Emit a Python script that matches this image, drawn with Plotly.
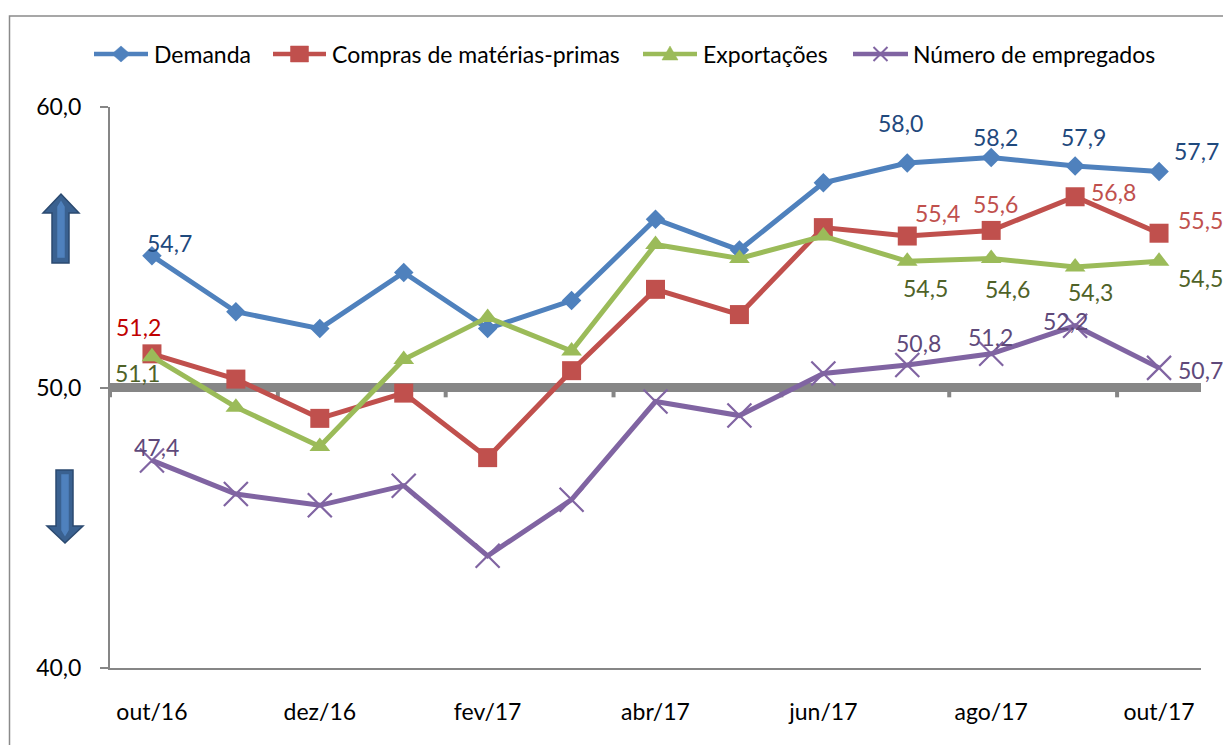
import plotly.graph_objects as go

# ---------------- data ----------------
months = ["out/16", "nov/16", "dez/16", "jan/17", "fev/17", "mar/17", "abr/17",
          "mai/17", "jun/17", "jul/17", "ago/17", "set/17", "out/17"]
demanda = [54.7, 52.7, 52.1, 54.1, 52.1, 53.1, 56.0, 54.9, 57.3, 58.0, 58.2, 57.9, 57.7]
compras = [51.2, 50.3, 48.9, 49.8, 47.5, 50.6, 53.5, 52.6, 55.7, 55.4, 55.6, 56.8, 55.5]
exportacoes = [51.1, 49.3, 47.9, 51.0, 52.5, 51.3, 55.1, 54.6, 55.4, 54.5, 54.6, 54.3, 54.5]
empregados = [47.4, 46.2, 45.8, 46.5, 44.0, 46.0, 49.5, 49.0, 50.5, 50.8, 51.2, 52.2, 50.7]
series_names = ["Demanda", "Compras de matérias-primas", "Exportações", "Número de empregados"]
tick_months = months[::2]
y_ticks = [40, 50, 60]
y_tick_text = ["40,0", "50,0", "60,0"]
labeled_idx = [0, 9, 10, 11, 12]

# ---------------- style ----------------
W, H = 1223, 745
PL, PR, PT, PB = 110, 1201, 107, 668
FONT = "Lato"
FS = 23
GRAY = "#868686"
line_colors = ["#4F81BD", "#C0504D", "#9BBB59", "#8064A2"]
label_colors = ["#1F497D", "#C0504D", "#4F6228", "#5F497A"]
first_label_colors = ["#1F497D", "#C00000", "#4F6228", "#5F497A"]

# label offsets (px right, px down) for labeled points, per series
label_offsets = [
    [(18, -13), (-7, -40), (4, -20), (8, -29), (37, -21)],
    [(-13, -27), (30, -23), (4, -26), (38, -5), (41, -13)],
    [(-14, 16), (18, 27), (16, 31), (15, 25), (41, 17)],
    [(5, -13), (11, -22), (-1, -17), (-10, -5), (41, 2)],
]


def px(x):
    return x / W


def py(y):
    return 1 - y / H


def fmt(v):
    return f"{v:.1f}".replace(".", ",")


all_series = [demanda, compras, exportacoes, empregados]
markers = [
    dict(symbol="diamond", size=15, color=line_colors[0]),
    dict(symbol="square", size=19, color=line_colors[1]),
    dict(symbol="triangle-up", size=18, color=line_colors[2]),
    dict(symbol="x-thin", size=24, color=line_colors[3],
         line=dict(width=2.2, color=line_colors[3])),
]

fig = go.Figure()
for name, vals, col, mk in zip(series_names, all_series, line_colors, markers):
    fig.add_trace(go.Scatter(
        x=months, y=vals, name=name, mode="lines+markers",
        line=dict(color=col, width=5), marker=mk, cliponaxis=False,
        showlegend=False,
    ))

annotations = []
for s, vals in enumerate(all_series):
    for k, i in enumerate(labeled_idx):
        dx, dy = label_offsets[s][k]
        annotations.append(dict(
            x=months[i], y=vals[i], xref="x", yref="y", text=fmt(vals[i]),
            showarrow=False, xanchor="center", yanchor="middle",
            xshift=dx, yshift=-dy,
            font=dict(family=FONT, size=FS,
                      color=first_label_colors[s] if i == 0 else label_colors[s]),
        ))

shapes = []
# reference line at 50 with tick marks
for b in range(-1, 12, 2):
    shapes.append(dict(type="line", xref="x", yref="y", x0=b + 0.5, x1=b + 0.5,
                       y0=50, y1=49.65, line=dict(color=GRAY, width=4), layer="below"))
shapes.append(dict(type="line", xref="x", yref="y", x0=-0.6, x1=12.5, y0=50, y1=50,
                   line=dict(color=GRAY, width=9), layer="below"))

# outer chart border
shapes.append(dict(type="rect", xref="paper", yref="paper", x0=px(9.5), x1=1.05,
                   y0=-0.05, y1=py(16), line=dict(color="#8A8A8A", width=1.5)))

# manual legend
leg_y = 54
legend_items = [(94, 148, 152), (273, 326, 330), (643, 697, 701), (853, 908, 911)]
for (x0, x1, tx), name, col, s in zip(legend_items, series_names, line_colors, range(4)):
    shapes.append(dict(type="line", xref="paper", yref="paper", x0=px(x0), x1=px(x1),
                       y0=py(leg_y), y1=py(leg_y), line=dict(color=col, width=4.5)))
    cx = (x0 + x1) / 2
    if s == 0:
        pts = [(cx, leg_y - 8), (cx + 9, leg_y), (cx, leg_y + 8), (cx - 9, leg_y)]
    elif s == 1:
        pts = [(cx - 9, leg_y - 8), (cx + 9, leg_y - 8), (cx + 9, leg_y + 8), (cx - 9, leg_y + 8)]
    elif s == 2:
        pts = [(cx, leg_y - 8), (cx + 8, leg_y + 6), (cx - 8, leg_y + 6)]
    else:
        pts = None
    if pts:
        path = "M " + " L ".join(f"{px(a):.5f},{py(b):.5f}" for a, b in pts) + " Z"
        shapes.append(dict(type="path", xref="paper", yref="paper", path=path,
                           fillcolor=col, line=dict(color=col, width=0.5)))
    else:
        for (a0, b0, a1, b1) in [(cx - 7, leg_y - 7, cx + 7, leg_y + 7),
                                 (cx - 7, leg_y + 7, cx + 7, leg_y - 7)]:
            shapes.append(dict(type="line", xref="paper", yref="paper", x0=px(a0), x1=px(a1),
                               y0=py(b0), y1=py(b1), line=dict(color=col, width=2)))
    annotations.append(dict(x=px(tx), y=py(leg_y), xref="paper", yref="paper", text=name,
                            showarrow=False, xanchor="left", yanchor="middle",
                            font=dict(family=FONT, size=FS, color="#000000")))

# block arrows (up / down)
ARROW_FILL = "#3A6190"
ARROW_LINE = "#2B4A70"
STRIPE = "#4F81BD"
up = [(52, 263), (52, 213), (43, 213), (61, 194), (79, 213), (69, 213), (69, 263)]
down = [(56, 470), (56, 526), (47, 526), (65, 543), (83, 526), (73, 526), (73, 470)]
up_stripe = [(58, 257), (58, 207), (61, 202), (64, 207), (64, 257)]
down_stripe = [(62, 475), (62, 530), (65, 535), (68, 530), (68, 475)]
for pts, fill, lc in [(up, ARROW_FILL, ARROW_LINE), (down, ARROW_FILL, ARROW_LINE),
                      (up_stripe, STRIPE, STRIPE), (down_stripe, STRIPE, STRIPE)]:
    path = "M " + " L ".join(f"{px(a):.5f},{py(b):.5f}" for a, b in pts) + " Z"
    shapes.append(dict(type="path", xref="paper", yref="paper", path=path,
                       fillcolor=fill, line=dict(color=lc, width=1.5)))

fig.update_layout(
    width=W, height=H,
    autosize=False,
    margin=dict(l=0, r=0, t=0, b=0, pad=0, autoexpand=False),
    paper_bgcolor="white", plot_bgcolor="white",
    font=dict(family=FONT, size=FS, color="#000000"),
    showlegend=False,
    xaxis=dict(
        domain=[px(PL), px(PR)], range=[-0.5, 12.5], type="category",
        tickmode="array", tickvals=tick_months, ticktext=tick_months,
        showline=True, linecolor=GRAY, linewidth=2, ticks="",
        showgrid=False, zeroline=False, ticklabelstandoff=22, automargin=False,
        tickfont=dict(family=FONT, size=FS, color="#000000"),
    ),
    yaxis=dict(
        domain=[py(PB), py(PT)], range=[40, 60],
        tickmode="array", tickvals=y_ticks, ticktext=y_tick_text,
        showline=True, linecolor=GRAY, linewidth=2,
        ticks="outside", ticklen=8, tickwidth=2, tickcolor=GRAY,
        showgrid=True, gridcolor=GRAY, gridwidth=2, zeroline=False,
        ticklabelstandoff=14, automargin=False,
        tickfont=dict(family=FONT, size=FS, color="#000000"),
    ),
    annotations=annotations,
    shapes=shapes,
)

fig.write_html("out.html", config={"displayModeBar": False},
               post_script="document.body.style.margin='0';document.body.style.overflow='hidden';")
